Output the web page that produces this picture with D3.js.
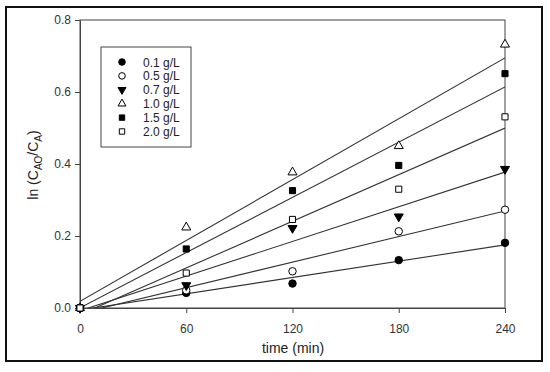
<!DOCTYPE html>
<html>
<head>
<meta charset="utf-8">
<script src="https://cdn.jsdelivr.net/npm/d3@7"></script>
<style>
  body { margin: 0; background: #fff; }
  svg text { font-family: Arial, "Liberation Sans", sans-serif; }
</style>
</head>
<body>
<div id="chart"></div>
<script>
// data
var times = [0, 60, 120, 180, 240];
var seriesNames = ["0.1 g/L", "0.5 g/L", "0.7 g/L", "1.0 g/L", "1.5 g/L", "2.0 g/L"];
var s01 = [0, 0.042, 0.068, 0.133, 0.181];
var s05 = [0, 0.049, 0.102, 0.213, 0.273];
var s07 = [0, 0.063, 0.222, 0.254, 0.386];
var s10 = [0, 0.224, 0.377, 0.450, 0.732];
var s15 = [0, 0.164, 0.326, 0.396, 0.651];
var s20 = [0, 0.097, 0.246, 0.330, 0.531];
var xTicks = [0, 60, 120, 180, 240];
var yTicks = [0, 0.2, 0.4, 0.6, 0.8];

var seriesValues = [s01, s05, s07, s10, s15, s20];
var markers = [
  {type: d3.symbolCircle, fill: "#000"},
  {type: d3.symbolCircle, fill: "#fff"},
  {type: "down", fill: "#000"},
  {type: d3.symbolTriangle, fill: "#fff"},
  {type: d3.symbolSquare, fill: "#000"},
  {type: d3.symbolSquare, fill: "#fff"}
];

var W = 550, H = 372;
var margin = {top: 20, right: 45, bottom: 64, left: 80};
var width = 505 - margin.left;
var height = 308 - margin.top;

var svg = d3.select("#chart").append("svg")
  .attr("width", W)
  .attr("height", H);

// outer frame
svg.append("rect")
  .attr("x", 6).attr("y", 7)
  .attr("width", 536).attr("height", 354)
  .attr("fill", "none")
  .attr("stroke", "#111")
  .attr("stroke-width", 2);

var g = svg.append("g")
  .attr("transform", "translate(" + margin.left + "," + margin.top + ")");

var x = d3.scaleLinear().domain([0, 240]).range([0, width]);
var y = d3.scaleLinear().domain([0, 0.8]).range([height, 0]);

function markerPath(m, size) {
  if (m.type === "down") {
    return d3.symbol().type(d3.symbolTriangle).size(size)();
  }
  return d3.symbol().type(m.type).size(size)();
}
function markerRot(m) { return m.type === "down" ? " rotate(180)" : ""; }
function markerSize(m, base) {
  if (m.type === d3.symbolSquare) return base * 0.85;
  if (m.type === d3.symbolCircle) return base;
  return base * 0.8;
}

g.append("clipPath").attr("id", "clip")
  .append("rect").attr("width", width).attr("height", height);

// plot box
g.append("rect")
  .attr("width", width).attr("height", height)
  .attr("fill", "none")
  .attr("stroke", "#444")
  .attr("stroke-width", 1);

// axes
var xAxis = g.append("g")
  .attr("transform", "translate(0," + height + ")")
  .call(d3.axisBottom(x).tickValues(xTicks).tickSize(5).tickSizeOuter(0).tickPadding(11));
var yAxis = g.append("g")
  .call(d3.axisLeft(y).tickValues(yTicks).tickFormat(d3.format(".1f")).tickSize(5).tickSizeOuter(0).tickPadding(4));

[xAxis, yAxis].forEach(function(a) {
  a.select(".domain").attr("stroke", "#444");
  a.selectAll(".tick line").attr("stroke", "#444");
  a.selectAll(".tick text").attr("fill", "#333").attr("font-size", "12px");
});

// least-squares fit lines
var lineGen = d3.line()
  .x(function(d) { return x(d[0]); })
  .y(function(d) { return y(d[1]); });

seriesValues.forEach(function(vals) {
  var mx = d3.mean(times), my = d3.mean(vals);
  var sxy = d3.sum(times, function(t, i) { return (t - mx) * (vals[i] - my); });
  var sxx = d3.sum(times, function(t) { return (t - mx) * (t - mx); });
  var b = sxy / sxx, a = my - b * mx;
  g.append("path")
    .attr("clip-path", "url(#clip)")
    .attr("d", lineGen([[0, a], [240, a + b * 240]]))
    .attr("fill", "none")
    .attr("stroke", "#333")
    .attr("stroke-width", 1.1);
});

// points
seriesValues.forEach(function(vals, si) {
  var m = markers[si];
  g.selectAll(".pt" + si)
    .data(times.map(function(t, i) { return [t, vals[i]]; }))
    .enter().append("path")
    .attr("transform", function(d) {
      return "translate(" + x(d[0]) + "," + y(d[1]) + ")" + markerRot(m);
    })
    .attr("d", markerPath(m, markerSize(m, 44)))
    .attr("fill", m.fill)
    .attr("stroke", "#000")
    .attr("stroke-width", 1);
});

// axis titles
svg.append("text")
  .attr("x", 293).attr("y", 353)
  .attr("text-anchor", "middle")
  .attr("font-size", "14px")
  .attr("fill", "#222")
  .text("time (min)");

var yt = svg.append("text")
  .attr("transform", "translate(38,165) rotate(-90)")
  .attr("text-anchor", "middle")
  .attr("font-size", "14px")
  .attr("fill", "#222");
yt.append("tspan").text("ln (C");
yt.append("tspan").attr("font-size", "10px").attr("dy", 4).text("AO");
yt.append("tspan").attr("dy", -4).text("/C");
yt.append("tspan").attr("font-size", "10px").attr("dy", 4).text("A");
yt.append("tspan").attr("dy", -4).text(")");

// legend
var legend = svg.append("g").attr("transform", "translate(101,47)");
legend.append("rect")
  .attr("width", 90).attr("height", 100)
  .attr("fill", "#fff")
  .attr("stroke", "#444")
  .attr("stroke-width", 1);

seriesNames.forEach(function(name, i) {
  var m = markers[i];
  var row = legend.append("g").attr("transform", "translate(0," + (15 + i * 13.9) + ")");
  row.append("path")
    .attr("transform", "translate(21,0)" + markerRot(m))
    .attr("d", markerPath(m, markerSize(m, 34)))
    .attr("fill", m.fill)
    .attr("stroke", "#000")
    .attr("stroke-width", 1);
  row.append("text")
    .attr("x", 42).attr("y", 4.5)
    .attr("font-size", "12px")
    .attr("fill", "#222")
    .text(name);
});
</script>
</body>
</html>
